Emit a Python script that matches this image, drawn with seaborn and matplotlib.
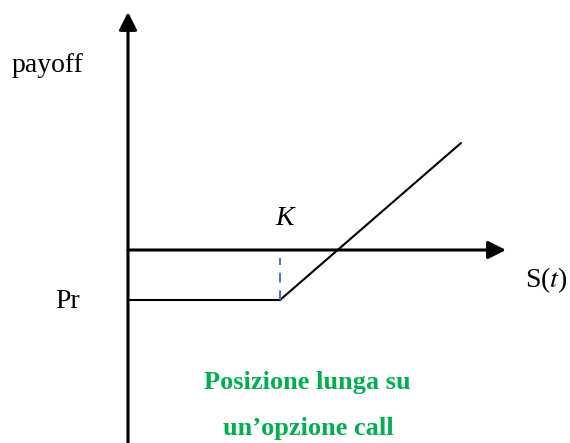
import matplotlib
matplotlib.use("Agg")
import matplotlib.pyplot as plt
import seaborn as sns
import pandas as pd

# ---- data (diagram units, origin at axes crossing) ----
S_points = [2, 152, 333]          # underlying price S(t)
payoff_points = [-50, -50, 107]   # long call payoff (net of premium)
K = 152                            # strike
Pr = -50                           # premium level
strike_marker_y = [-8, -50]        # dashed guide at K
x_axis_end = 378
y_axis_top = 238
y_axis_bottom = -193
x_left = -128

labels = {
    "payoff": "payoff",
    "K": "K",
    "S": r"S($\mathit{t}$)",
    "Pr": "Pr",
    "title1": "Posizione lunga su",
    "title2": "un\u2019opzione call",
}

sns.set_style("white")
plt.rcParams["font.family"] = ["Liberation Serif", "DejaVu Serif"]
plt.rcParams["mathtext.fontset"] = "stix"
plt.rcParams["text.color"] = "black"

fig = plt.figure(figsize=(5.7, 4.43), dpi=100)
ax = fig.add_axes([0, 0, 1, 1])
ax.set_xlim(x_left, x_left + 570)
ax.set_ylim(y_axis_bottom, 250)
ax.axis("off")

df = pd.DataFrame({"S": S_points, "payoff": payoff_points})
sns.lineplot(data=df, x="S", y="payoff", ax=ax, color="black", lw=1.5,
             sort=False, estimator=None)
dk = pd.DataFrame({"S": [K, K], "y": strike_marker_y})
sns.lineplot(data=dk, x="S", y="y", ax=ax, color="#4472C4", lw=1.4,
             estimator=None, dashes=False, linestyle=(0, (5, 4)))

arrow = dict(arrowstyle="-|>,head_length=0.4,head_width=0.2", lw=2.2,
             color="black", mutation_scale=27, shrinkA=0, shrinkB=0)
ax.annotate("", xy=(x_axis_end, 0), xytext=(0, 0), arrowprops=arrow)
ax.annotate("", xy=(0, y_axis_top), xytext=(0, y_axis_bottom), arrowprops=arrow)

ax.text(-80, 185, labels["payoff"], fontsize=20, ha="center", va="center")
ax.text(157, 32, labels["K"], fontsize=20, style="italic", ha="center", va="center")
ax.text(418, -30, labels["S"], fontsize=20, ha="center", va="center")
ax.text(-60, -51, labels["Pr"], fontsize=20, ha="center", va="center")
ax.text(179, -133, labels["title1"], fontsize=19, weight="bold",
        color="#00B050", ha="center", va="center")
ax.text(180, -178, labels["title2"], fontsize=19, weight="bold",
        color="#00B050", ha="center", va="center")

fig.savefig("out.png", dpi=100)
